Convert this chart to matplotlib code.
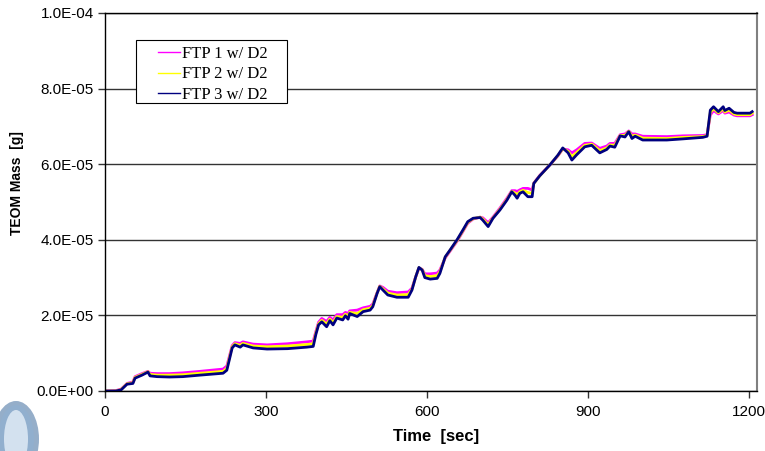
import matplotlib
matplotlib.use("Agg")
import numpy as np
import matplotlib.pyplot as plt
from matplotlib.patches import Ellipse, Rectangle
from matplotlib.legend_handler import HandlerLine2D
from matplotlib.ticker import FuncFormatter, MultipleLocator

# -------- DADOS (massa em unidades de 1e-5 g) --------
time_s = [0, 20, 30, 41, 52, 56, 69, 80, 84, 97, 120, 145, 177, 220, 227, 237, 242, 252,
          257, 276, 302, 340, 376, 388, 393, 398, 404, 413, 419, 425, 432, 443, 448, 453,
          456, 470, 481, 494, 499, 507, 512, 518, 527, 544, 565, 572, 579, 585, 591, 596,
          606, 619, 624, 634, 643, 656, 667, 676, 686, 699, 704, 714, 723, 736, 749, 758,
          764, 768, 773, 779, 788, 796, 799, 810, 829, 844, 853, 863, 870, 879, 894, 907,
          922, 935, 941, 950, 960, 969, 976, 982, 988, 1002, 1047, 1077, 1114, 1122, 1128,
          1134, 1143, 1152, 1155, 1163, 1172, 1178, 1202, 1206]

ftp1 = [0, 0.01, 0.05, 0.2, 0.24, 0.38, 0.46, 0.52, 0.47, 0.46, 0.46, 0.48, 0.52, 0.58, 0.66,
        1.2, 1.28, 1.26, 1.3, 1.24, 1.22, 1.25, 1.3, 1.32, 1.58, 1.82, 1.92, 1.84, 1.95, 1.88,
        2.02, 2.02, 2.08, 2.05, 2.12, 2.14, 2.2, 2.24, 2.3, 2.6, 2.78, 2.74, 2.64, 2.6, 2.62,
        2.72, 3.02, 3.25, 3.22, 3.1, 3.1, 3.12, 3.2, 3.52, 3.7, 3.96, 4.22, 4.44, 4.55, 4.6,
        4.58, 4.45, 4.6, 4.84, 5.1, 5.3, 5.3, 5.28, 5.32, 5.36, 5.36, 5.32, 5.5, 5.7, 5.98,
        6.22, 6.4, 6.38, 6.3, 6.38, 6.55, 6.56, 6.42, 6.48, 6.55, 6.55, 6.78, 6.8, 6.88, 6.8,
        6.8, 6.74, 6.73, 6.75, 6.76, 6.78, 7.3, 7.42, 7.33, 7.42, 7.35, 7.38, 7.3, 7.28, 7.28,
        7.31]

ftp2 = [0, 0, 0.04, 0.19, 0.22, 0.36, 0.44, 0.51, 0.44, 0.42, 0.42, 0.43, 0.47, 0.52, 0.6,
        1.17, 1.25, 1.21, 1.26, 1.19, 1.17, 1.19, 1.23, 1.25, 1.54, 1.78, 1.87, 1.77, 1.9, 1.81,
        1.97, 1.95, 2.03, 1.98, 2.08, 2.05, 2.15, 2.19, 2.26, 2.59, 2.77, 2.7, 2.59, 2.54, 2.55,
        2.69, 3.02, 3.26, 3.21, 3.05, 3.03, 3.05, 3.15, 3.54, 3.72, 3.98, 4.24, 4.46, 4.56, 4.6,
        4.55, 4.4, 4.58, 4.81, 5.07, 5.28, 5.24, 5.19, 5.27, 5.31, 5.25, 5.23, 5.49, 5.69, 5.98,
        6.23, 6.41, 6.34, 6.2, 6.31, 6.5, 6.53, 6.36, 6.43, 6.51, 6.5, 6.76, 6.76, 6.87, 6.74,
        6.77, 6.69, 6.68, 6.71, 6.73, 6.76, 7.37, 7.47, 7.36, 7.47, 7.38, 7.43, 7.33, 7.31, 7.31,
        7.35]

ftp3 = [0, 0, 0.03, 0.18, 0.2, 0.34, 0.42, 0.5, 0.4, 0.38, 0.37, 0.38, 0.42, 0.47, 0.55,
        1.14, 1.22, 1.16, 1.22, 1.14, 1.11, 1.12, 1.16, 1.18, 1.5, 1.75, 1.83, 1.7, 1.86, 1.75,
        1.93, 1.88, 1.99, 1.9, 2.05, 1.97, 2.1, 2.14, 2.23, 2.58, 2.76, 2.67, 2.54, 2.48, 2.48,
        2.67, 3.02, 3.27, 3.2, 3.0, 2.96, 2.98, 3.11, 3.55, 3.73, 4.0, 4.26, 4.48, 4.57, 4.59,
        4.52, 4.35, 4.57, 4.79, 5.05, 5.27, 5.18, 5.1, 5.23, 5.27, 5.14, 5.14, 5.49, 5.69, 5.98,
        6.24, 6.43, 6.3, 6.11, 6.25, 6.46, 6.5, 6.3, 6.39, 6.48, 6.45, 6.75, 6.72, 6.86, 6.68,
        6.74, 6.64, 6.64, 6.67, 6.71, 6.74, 7.43, 7.52, 7.39, 7.52, 7.42, 7.48, 7.37, 7.35, 7.35,
        7.39]

labels = ["FTP 1 w/ D2", "FTP 2 w/ D2", "FTP 3 w/ D2"]
colors = ["#FF00FF", "#FFFF00", "#000080"]


def sci(v, pos):
    m, e = f"{v:.1E}".split("E")
    return f"{m}E{int(e):+03d}"


# linha da legenda só na parte direita do espaço
class ShortLine(HandlerLine2D):
    def get_xdata(self, legend, xdescent, ydescent, width, height, fontsize):
        x0 = -xdescent + 0.45 * width
        x1 = -xdescent + width
        return np.array([x0, x1]), np.array([(x0 + x1) / 2])


# -------- GRÁFICO --------
plt.rcParams["font.family"] = ["Liberation Sans", "DejaVu Sans"]
fig = plt.figure(figsize=(7.65, 4.51), dpi=100)
ax = fig.add_axes([105 / 765, 60 / 451, 652 / 765, 378 / 451])

for vals, lab, col in zip([ftp1, ftp2, ftp3], labels, colors):
    ax.plot(time_s, [v * 1e-5 for v in vals], color=col, lw=2, label=lab)

ax.set_xlim(0, 1215)
ax.set_ylim(0, 1e-4)
ax.xaxis.set_major_locator(MultipleLocator(300))
ax.yaxis.set_major_locator(MultipleLocator(2e-5))
ax.yaxis.set_major_formatter(FuncFormatter(sci))
ax.yaxis.grid(True, color="#333333", lw=1)
ax.set_axisbelow(True)
ax.tick_params(labelsize=11, length=5, width=1, color="#333333")
ax.tick_params(axis="x", pad=5)
ax.tick_params(axis="y", pad=3)

for s in ["left", "bottom", "top"]:
    ax.spines[s].set_color("black")
    ax.spines[s].set_linewidth(1)
ax.spines["right"].set_color("#808080")
ax.spines["right"].set_linewidth(1.5)

ax.set_xlabel("Time  [sec]", fontsize=12, fontweight="bold")
ax.set_ylabel("TEOM Mass  [g]", fontsize=10, fontweight="bold")
ax.xaxis.set_label_coords(0.508, -0.1)
ax.yaxis.set_label_coords(-0.124, 0.55)

# legenda sem moldura + caixa desenhada à parte
leg = ax.legend(loc="upper left", bbox_to_anchor=(29 / 652, 351 / 378), borderaxespad=0,
                frameon=False, handlelength=2.4, handletextpad=0.15,
                labelspacing=0.28, borderpad=0.35,
                handler_map={matplotlib.lines.Line2D: ShortLine()},
                prop={"family": "Liberation Serif", "size": 12})
for ln in leg.get_lines():
    ln.set_linewidth(1)
ax.add_patch(Rectangle((31 / 652, 288 / 378), 151 / 652, 63 / 378, transform=ax.transAxes,
                       facecolor="white", edgecolor="black", lw=0.8, zorder=4))
leg.set_zorder(5)

# pedaço de logotipo no canto (desfocado)
for w, h, fc, a in [(46, 76, "#4f78a6", 0.6), (36, 68, "#8fb0d2", 0.6), (24, 58, "#dbe7f3", 0.9)]:
    fig.patches.append(Ellipse((16 / 765, 12 / 451), w / 765, h / 451, transform=fig.transFigure,
                               facecolor=fc, edgecolor="none", alpha=a))

fig.savefig("out.png", dpi=100)
